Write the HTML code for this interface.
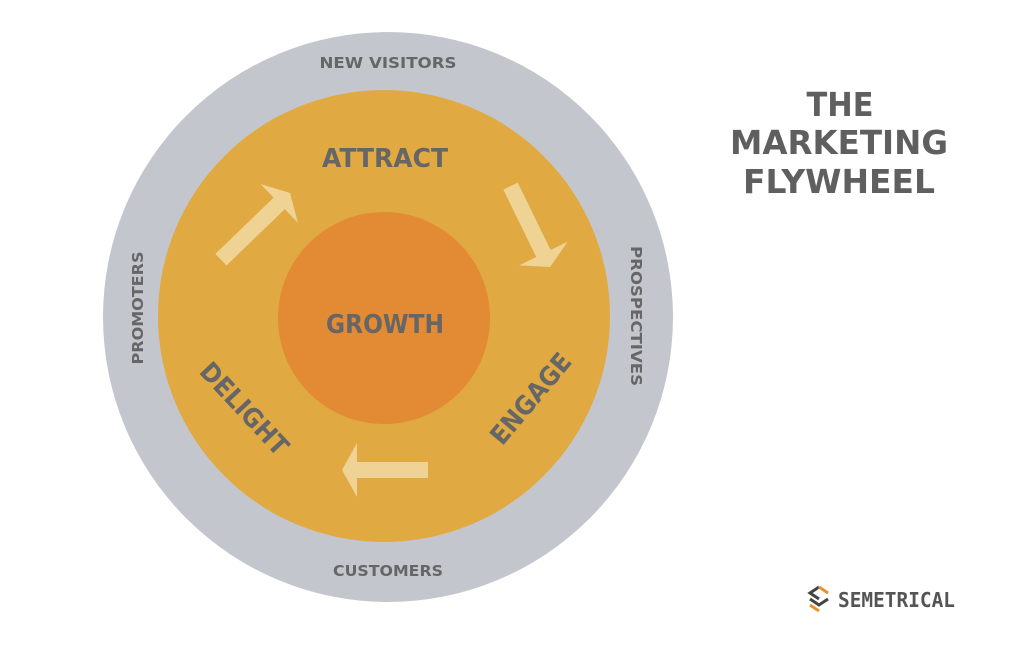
<!DOCTYPE html>
<html><head><meta charset="utf-8"><style>
html,body{margin:0;padding:0;background:#fff;width:1024px;height:652px;overflow:hidden}
</style></head><body>
<svg width="1024" height="652" viewBox="0 0 1024 652" xmlns="http://www.w3.org/2000/svg" font-family="'DejaVu Sans', 'Liberation Sans', sans-serif" font-weight="bold">
<circle cx="388" cy="317" r="285" fill="#c3c7cd"/>
<circle cx="384" cy="316" r="226" fill="#e0a942"/>
<circle cx="384" cy="318" r="106" fill="#e38a35"/>
<g fill="#efd394">
<polygon points="0,0 15,-27 15,-8 86,-8 86,8 15,8 15,27" transform="translate(342,470)"/>
<polygon points="0,0 15,-27 15,-8 96,-8 96,8 15,8 15,27" transform="translate(290,193) rotate(136)"/>
<polygon points="0,0 15,-27 15,-8 90,-8 90,8 15,8 15,27" transform="translate(550,267) rotate(244)"/>
</g>
<g fill="#666" text-anchor="middle">
<text x="385" y="167" font-size="26" textLength="126" lengthAdjust="spacingAndGlyphs">ATTRACT</text>
<text x="385" y="333" font-size="26" textLength="118" lengthAdjust="spacingAndGlyphs">GROWTH</text>
<text x="0" y="10" font-size="26" textLength="116" lengthAdjust="spacingAndGlyphs" transform="translate(245,408) rotate(47)">DELIGHT</text>
<text x="0" y="10" font-size="26" textLength="110" lengthAdjust="spacingAndGlyphs" transform="translate(530,398) rotate(-50)">ENGAGE</text>
<text x="388" y="68" font-size="15" textLength="137" lengthAdjust="spacingAndGlyphs">NEW VISITORS</text>
<text x="388" y="576" font-size="15" textLength="110" lengthAdjust="spacingAndGlyphs">CUSTOMERS</text>
<text x="0" y="5" font-size="15" textLength="113" lengthAdjust="spacingAndGlyphs" transform="translate(138,308) rotate(-90)">PROMOTERS</text>
<text x="0" y="5" font-size="15" textLength="140" lengthAdjust="spacingAndGlyphs" transform="translate(636,316) rotate(90)">PROSPECTIVES</text>
</g>
<g fill="#5f5f5f" text-anchor="middle" font-size="33">
<text x="840" y="116" textLength="67" lengthAdjust="spacingAndGlyphs">THE</text>
<text x="839" y="154" textLength="218" lengthAdjust="spacingAndGlyphs">MARKETING</text>
<text x="839" y="193" textLength="192" lengthAdjust="spacingAndGlyphs">FLYWHEEL</text>
</g>
<g transform="translate(809,587)">
<polyline points="10,0 1,6 10,12" fill="none" stroke="#444" stroke-width="3"/>
<polyline points="10,0 19,6" fill="none" stroke="#e8922e" stroke-width="3"/>
<polyline points="1,12 10,18 19,12" fill="none" stroke="#444" stroke-width="3"/>
<polyline points="1,18 10,24" fill="none" stroke="#e8922e" stroke-width="3"/>
</g>
<text x="838" y="607" font-size="20" fill="#555" font-weight="bold" textLength="117" lengthAdjust="spacingAndGlyphs" font-family="'DejaVu Sans Mono','Liberation Mono',monospace">SEMETRICAL</text>
</svg>
</body></html>
